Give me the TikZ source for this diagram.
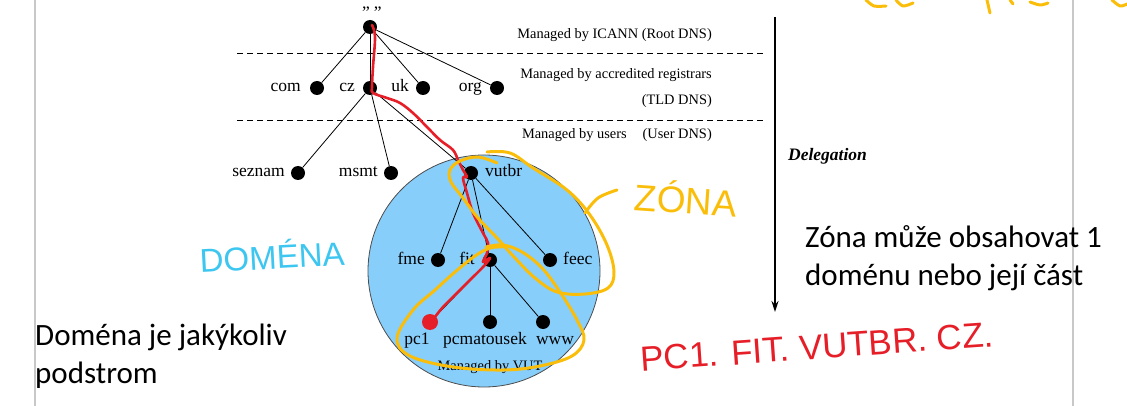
\documentclass[tikz,border=0pt]{standalone}
\usepackage{fontspec}
\setmainfont{Liberation Serif}
\newfontfamily\calfont{Carlito}
\newfontfamily\handfont{Liberation Sans}
\usetikzlibrary{arrows.meta}
\definecolor{zoneblue}{RGB}{135,206,250}
\definecolor{penred}{RGB}{230,30,40}
\definecolor{penyellow}{RGB}{250,190,10}
\definecolor{penblue}{RGB}{60,198,240}
\definecolor{pagegray}{RGB}{200,200,200}
\tikzset{
  dot/.style={circle,fill=black,inner sep=0pt,minimum size=14pt},
  lbl/.style={font=\fontsize{17.5}{19}\selectfont,inner sep=0pt,text height=8pt,text depth=0pt},
  mng/.style={font=\fontsize{14.4}{16}\selectfont,inner sep=0pt,anchor=east,text height=7pt,text depth=0pt},
  edge/.style={draw=black,line width=0.8pt},
  sep/.style={draw=black,line width=0.8pt,dash pattern=on 6pt off 4pt},
  note/.style={font=\calfont\fontsize{31}{38}\selectfont,align=left,anchor=base west,inner sep=0pt},
  redpen/.style={draw=penred,line width=2.6pt,line cap=round,line join=round},
  yellowpen/.style={draw=penyellow,line width=3pt,line cap=round,line join=round},
  handtxt/.style={font=\handfont,inner sep=0pt}
}
\begin{document}
\begin{tikzpicture}[x=1pt,y=-1pt]
\useasboundingbox (0,0) rectangle (1127,406);
% page borders
\draw[pagegray,line width=2pt] (35,0) -- (35,406);
\draw[pagegray,line width=2pt] (1073,0) -- (1073,406);
% zone circle
\fill[zoneblue,draw=black!70,line width=0.8pt] (484,271) circle[radius=116pt];
% separators
\draw[sep] (237,53) -- (766,53);
\draw[sep] (237,120) -- (766,120);
% nodes
\node[dot] (root) at (370,27) {};
\node[font=\fontsize{17.5}{19}\selectfont,inner sep=0pt,anchor=base] (rootl) at (372,19) {\symbol{34}\hspace{4pt}\symbol{34}};
\node[dot] (com) at (317,88) {};
\node[dot] (cz) at (370,88) {};
\node[dot] (uk) at (423,88) {};
\node[dot] (org) at (497,88) {};
\node[dot] (seznam) at (298,173) {};
\node[dot] (msmt) at (391,173) {};
\node[dot] (vutbr) at (471,173) {};
\node[dot] (fme) at (438,260) {};
\node[dot] (fit) at (490,260) {};
\node[dot] (feec) at (550,260) {};
\node[dot] (pc1) at (430,322) {};
\node[dot] (pcm) at (490,322) {};
\node[dot] (www) at (543,322) {};
% labels
\node[lbl,anchor=east] at (301,88) {com};
\node[lbl,anchor=east] at (355,88) {cz};
\node[lbl,anchor=east] at (409,88) {uk};
\node[lbl,anchor=east] at (482,88) {org};
\node[lbl,anchor=east] at (285,173) {seznam};
\node[lbl,anchor=east] at (378,173) {msmt};
\node[lbl,anchor=west] at (485,173) {vutbr};
\node[lbl,anchor=east] at (425,260) {fme};
\node[lbl,anchor=east] at (475,260) {fit};
\node[lbl,anchor=west] at (563,260) {feec};
\node[lbl] at (417,340) {pc1};
\node[lbl] at (485,340) {pcmatousek};
\node[lbl] at (555,340) {www};
\node[font=\fontsize{14.4}{16}\selectfont,inner sep=0pt] at (490,367) {Managed by VUT};
% edges
\foreach \a/\b in {root/com,root/cz,root/uk,root/org,cz/seznam,cz/msmt,cz/vutbr,vutbr/fme,vutbr/fit,vutbr/feec,fit/pc1,fit/pcm,fit/www}
  \draw[edge] (\a) -- (\b);
% management texts
\node[mng] at (712,35) {Managed by ICANN (Root DNS)};
\node[mng] at (712,75) {Managed by accredited registrars};
\node[mng] at (712,101) {(TLD DNS)};
\node[mng] at (712,135) {Managed by users\hspace{1.1em}(User DNS)};
% delegation arrow
\coordinate (dtop) at (775,17);
\coordinate (dbot) at (775,312);
\draw[line width=1.6pt,-{Stealth[length=11pt,width=7pt]}] (dtop) -- (dbot);
\node[font=\fontsize{17.5}{19}\selectfont\bfseries\itshape,anchor=west,inner sep=0pt] at (788,156) {Delegation};
% notes
\node[note] at (805,285) {Zóna může obsahovat 1\\doménu nebo její část};
\node[note] at (35,383) {Doména je jakýkoliv\\podstrom};
% handwritten annotations
\node[handtxt,text=penblue,font=\handfont\fontsize{33}{33}\selectfont,rotate=3] at (272,255) {DOMÉNA};
\node[handtxt,text=penyellow,font=\handfont\fontsize{37}{37}\selectfont,rotate=-4] at (686,198) {ZÓNA};
\node[handtxt,text=penred,font=\handfont\fontsize{35}{35}\selectfont,rotate=4] at (817,347) {PC1. FIT. VUTBR. CZ.};
% red path
\draw[redpen] plot[smooth,tension=0.6] coordinates {(372,25) (375,37) (373,67) (372,87) (373,93) (387,98) (400,103) (413,113) (427,127) (440,140) (453,150) (458,160) (463,170) (467,177) (463,178) (467,193) (473,213) (483,233) (488,243) (487,253) (483,262) (490,258) (484,266) (470,280) (457,293) (443,307) (435,317)};
\fill[penred] (pc1.center) circle[radius=8pt];
% yellow loops
\draw[yellowpen] plot[smooth,tension=0.6] coordinates {(487,152) (510,153) (533,168) (567,190) (590,215) (607,245) (614,272) (608,288) (585,294) (557,292) (535,278) (515,258) (497,238) (478,218) (463,198) (451,182) (450,170) (460,161) (478,157) (497,163)};
\draw[yellowpen] plot[smooth,tension=0.6] coordinates {(585,213) (598,198) (617,190)};
\draw[yellowpen] plot[smooth,tension=0.6] coordinates {(486,247) (503,245) (522,252) (542,268) (560,292) (577,320) (584,340) (572,356) (540,366) (503,370) (453,367) (410,356) (397,338) (413,310) (435,290) (455,272) (475,256) (490,248) (503,247)};
% cropped scribble at top right
\draw[yellowpen] plot[smooth] coordinates {(866,0) (874,6) (886,6)};
\draw[yellowpen] plot[smooth] coordinates {(896,0) (903,6) (913,3)};
\draw[yellowpen] (987,0) -- (990,13);
\draw[yellowpen] plot[smooth] coordinates {(1010,0) (1013,4)};
\draw[yellowpen] plot[smooth] coordinates {(1030,2) (1040,5) (1048,3)};
\draw[yellowpen] plot[smooth] coordinates {(1112,0) (1120,6) (1127,4)};
\end{tikzpicture}
\end{document}
